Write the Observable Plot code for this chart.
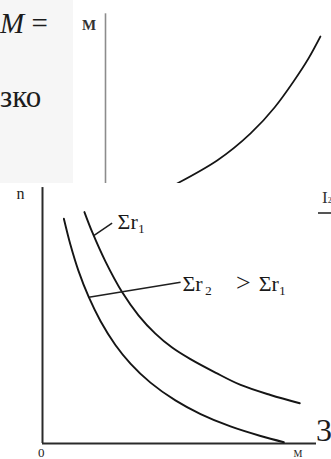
<!DOCTYPE html>
<html>
<head>
<meta charset="utf-8">
<script src="https://cdn.jsdelivr.net/npm/d3@7"></script>
<script src="https://cdn.jsdelivr.net/npm/@observablehq/plot@0.6"></script>
<style>
html, body { margin: 0; padding: 0; background: #fff; }
#wrap { position: relative; width: 331px; height: 459px; overflow: hidden; background: #fff;
        font-family: "Liberation Serif", "Times New Roman", "DejaVu Serif", serif; color: #1c1c1c; }
.abs { position: absolute; white-space: nowrap; line-height: 1;
       font-family: "Liberation Serif", "Times New Roman", "DejaVu Serif", serif; }
</style>
</head>
<body>
<div id="wrap">
  <div class="abs" style="left:0;top:0;width:73px;height:183px;background:#f6f6f6"></div>
  <div class="abs" style="left:0;top:9px;font-size:29px"><i>M</i> =</div>
  <div class="abs" style="left:0;top:81px;font-size:31px">зко</div>
  <div id="top" class="abs" style="left:73px;top:0"></div>
  <div class="abs" style="left:322px;top:189px;font-size:17px;color:#333">I<span style="font-size:8px">2</span></div>
  <div class="abs" style="left:318px;top:212px;width:13px;height:1.5px;background:#555"></div>
  <div id="bottom" class="abs" style="left:0;top:183px"></div>
  <div class="abs" style="left:316px;top:414px;font-size:32px">3</div>
</div>
<script>
// ---- top panel: M against I ----
const topI = [3.17, 4.94, 6.42, 7.48, 8.32, 8.98, 9.51];
const topM = [0, 1.37, 2.98, 4.52, 6.07, 7.44, 8.75];
const topAxisLabel = ["M"];
const topAxisLabelI = [-0.73];
const topAxisLabelM = [9.4];

// ---- bottom panel: n against M ----
const curveA_M = [0.78, 1.02, 1.31, 1.69, 2.12, 2.66, 3.21, 3.94, 4.85, 5.77, 6.86, 7.96, 8.81];
const curveA_n = [8.71, 7.70, 6.70, 5.67, 4.74, 3.82, 3.10, 2.36, 1.67, 1.14, 0.66, 0.29, 0.05];
const curveB_M = [1.53, 1.82, 2.30, 2.91, 3.51, 4.12, 4.73, 5.40, 6.31, 7.23, 8.32, 9.39];
const curveB_n = [8.97, 8.18, 7.05, 5.86, 4.96, 4.26, 3.72, 3.27, 2.75, 2.27, 1.88, 1.56];

const noteText = ["Σr₁", "Σr\u200a₂", ">", "Σr₁"];
const noteM = [2.74, 5.11, 7.06, 7.89];
const noteN = [8.57, 6.20, 6.24, 6.20];
const noteSize = [22, 22, 26, 22];

const leaderM1 = [1.87, 1.69];
const leaderN1 = [8.06, 5.67];
const leaderM2 = [2.54, 5.04];
const leaderN2 = [8.54, 6.25];

const axisText = ["n", "0", "M"];
const axisTextM = [-0.80, -0.05, 9.32];
const axisTextN = [9.67, -0.36, -0.41];
const axisTextSize = [16, 13, 10];

const serif = "Liberation Serif, Times New Roman, DejaVu Serif, serif";

const topCurve = topI.map((v, i) => ({I: v, M: topM[i]}));
const topPlot = Plot.plot({
  width: 258, height: 183,
  marginLeft: 32, marginRight: 0, marginTop: 15, marginBottom: 0,
  x: {domain: [0, 10], axis: null},
  y: {domain: [0, 10], axis: null},
  style: {background: "transparent", fontFamily: serif},
  marks: [
    Plot.ruleX([0], {y1: 0, y2: 10.1, stroke: "#8c8c8c", strokeWidth: 1.6}),
    Plot.line(topCurve, {x: "I", y: "M", curve: "natural", stroke: "#151515", strokeWidth: 1.7}),
    Plot.text(topAxisLabel, {x: topAxisLabelI, y: topAxisLabelM, text: d => d,
      fontSize: 15, fontWeight: "bold", fill: "#333", fontFamily: serif})
  ]
});
document.getElementById("top").appendChild(topPlot);

const dataA = curveA_M.map((v, i) => ({M: v, n: curveA_n[i]}));
const dataB = curveB_M.map((v, i) => ({M: v, n: curveB_n[i]}));
const notes = noteText.map((t, i) => ({t, M: noteM[i], n: noteN[i], s: noteSize[i]}));
const leaders = leaderM1.map((v, i) => ({x1: v, y1: leaderN1[i], x2: leaderM2[i], y2: leaderN2[i]}));
const axisLabs = axisText.map((t, i) => ({t, M: axisTextM[i], n: axisTextN[i], s: axisTextSize[i]}));

const bottomPlot = Plot.plot({
  width: 318, height: 276,
  marginLeft: 42, marginRight: 2, marginTop: 2, marginBottom: 16,
  x: {domain: [0, 10], axis: null},
  y: {domain: [0, 10], axis: null},
  style: {background: "white", fontFamily: serif},
  marks: [
    Plot.ruleX([0], {y1: 0, y2: 9.92, stroke: "#2a2a2a", strokeWidth: 2}),
    Plot.ruleY([0], {x1: 0, x2: 10, stroke: "#2a2a2a", strokeWidth: 2}),
    Plot.line(dataA, {x: "M", y: "n", curve: "catmull-rom", stroke: "#151515", strokeWidth: 1.9}),
    Plot.line(dataB, {x: "M", y: "n", curve: "catmull-rom", stroke: "#151515", strokeWidth: 1.9}),
    Plot.link(leaders, {x1: "x1", y1: "y1", x2: "x2", y2: "y2", stroke: "#1f1f1f", strokeWidth: 1.6}),
    ...notes.map(d => Plot.text([d], {x: "M", y: "n", text: "t", textAnchor: "start", fontSize: d.s,
      fill: "#1a1a1a", fontFamily: serif})),
    ...axisLabs.map(d => Plot.text([d], {x: "M", y: "n", text: "t", fontSize: d.s,
      fill: "#222", fontFamily: serif}))
  ]
});
document.getElementById("bottom").appendChild(bottomPlot);
</script>
</body>
</html>
